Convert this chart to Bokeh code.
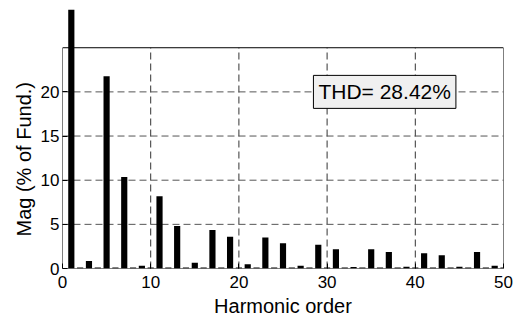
import math
from bokeh.plotting import figure
from bokeh.models import Range1d, Label, Title, FixedTicker, ColumnDataSource
from bokeh.embed import file_html
from bokeh.resources import INLINE

# ---- data ----
harmonics = list(range(1, 51))
magnitude = [
    100.0, 0.1, 0.86, 0.1, 21.76, 0.1, 10.35, 0.1, 0.3, 0.1,
    8.17, 0.1, 4.82, 0.1, 0.64, 0.1, 4.36, 0.1, 3.6, 0.1,
    0.49, 0.1, 3.5, 0.1, 2.86, 0.1, 0.3, 0.1, 2.7, 0.1,
    2.18, 0.1, 0.18, 0.1, 2.18, 0.1, 1.88, 0.1, 0.2, 0.1,
    1.73, 0.1, 1.5, 0.1, 0.2, 0.1, 1.88, 0.1, 0.3, 0.1,
]
x_ticks = [0, 10, 20, 30, 40, 50]
y_ticks = [0, 5, 10, 15, 20]
x_lim = [0, 50]
y_lim = [0, 25]
thd_text = "THD= 28.42%"
x_label = "Harmonic order"
y_label = "Mag (% of Fund.)"

FONT = "Liberation Sans"

p = figure(width=514, height=324, output_backend="svg", toolbar_location=None,
           x_range=Range1d(x_lim[0], x_lim[1]), y_range=Range1d(0, 29.33),
           min_border_left=62, min_border_right=11, min_border_top=9, min_border_bottom=56)
p.outline_line_color = None
p.grid.visible = False
p.background_fill_color = "white"
p.border_fill_color = "white"

# grid lines (only inside the 0..25 box)
p.segment(x0=x_ticks[1:-1], y0=[y_lim[0]] * 4, x1=x_ticks[1:-1], y1=[y_lim[1]] * 4,
          line_color="#333333", line_width=1, line_dash="7 4")
p.segment(x0=[x_lim[0]] * 4, y0=y_ticks[1:], x1=[x_lim[1]] * 4, y1=y_ticks[1:],
          line_color="#555555", line_width=1, line_dash="7 4")

# bars
src = ColumnDataSource(dict(h=harmonics, m=magnitude))
p.vbar(x="h", top="m", width=0.7, source=src, fill_color="black", line_color=None)

# frame box
p.segment(x0=[x_lim[0], x_lim[0], x_lim[1], x_lim[0]],
          y0=[y_lim[0], y_lim[1], y_lim[0], y_lim[0]],
          x1=[x_lim[1], x_lim[1], x_lim[1], x_lim[0]],
          y1=[y_lim[0], y_lim[1], y_lim[1], y_lim[1]],
          line_color="black", line_width=1)

p.xaxis[0].ticker = FixedTicker(ticks=x_ticks)
p.yaxis[0].ticker = FixedTicker(ticks=y_ticks)

def style(ax):
    ax.axis_line_color = None
    ax.major_tick_in = 5
    ax.major_tick_out = 0
    ax.minor_tick_line_color = None
    ax.major_tick_line_color = "black"
    ax.major_label_text_font = FONT
    ax.major_label_text_font_size = "17px"
    ax.major_label_text_color = "black"
    ax.axis_label_text_font = FONT
    ax.axis_label_text_font_size = "20px"
    ax.axis_label_text_font_style = "normal"
    ax.axis_label_text_color = "black"

style(p.xaxis[0])
p.xaxis[0].axis_label = x_label
p.xaxis[0].major_label_standoff = 7
p.xaxis[0].axis_label_standoff = 4
style(p.yaxis[0])
p.yaxis[0].major_label_standoff = 3

ytitle = Title(text=y_label, align="left", offset=32, standoff=6,
               text_font=FONT, text_font_size="20px", text_font_style="normal",
               text_color="black")
p.add_layout(ytitle, "left")

thd = Label(x=28.45, y=20, text=thd_text, text_baseline="middle", text_align="left",
            text_font=FONT, text_font_size="21px", text_color="black",
            background_fill_color="#f0f0f0", border_line_color="black", border_line_width=1,
            padding=5)
p.add_layout(thd)

open("out.html", "w").write(file_html(p, INLINE))
